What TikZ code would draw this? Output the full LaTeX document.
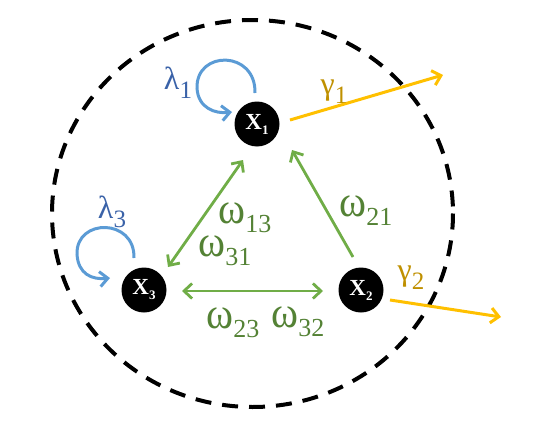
\documentclass[tikz,border=0pt]{standalone}
\usepackage{fontspec}
\setmainfont{Liberation Serif}
\usetikzlibrary{arrows.meta,calc}
\definecolor{loopblue}{HTML}{5B9BD5}
\definecolor{lamblue}{HTML}{3A62A8}
\definecolor{lgreen}{HTML}{70AD47}
\definecolor{tgreen}{HTML}{548235}
\definecolor{lyellow}{HTML}{FFC000}
\definecolor{tgold}{HTML}{BF9000}
\newcommand\mysub[1]{\raisebox{-0.28em}{\fontsize{25}{25}\selectfont #1}}
\newcommand\wsub[1]{\raisebox{-0.28em}{\fontsize{26}{26}\selectfont #1}}
\newcommand\bigw{\scalebox{1.28}[1.38]{ω}}
\newcommand\nsub[1]{\raisebox{-0.22em}{\fontsize{13}{13}\selectfont #1}}
\tikzset{
  gtip/.tip={Straight Barb[length=8pt,width=15pt]},
  state/.style={circle,fill=black,minimum size=45pt,inner sep=0pt,text=white,font=\fontsize{23}{23}\selectfont\bfseries},
  glabel/.style={text=tgreen,font=\fontsize{32}{32}\selectfont,inner sep=0pt},
  ylabel/.style={text=tgold,font=\fontsize{32}{32}\selectfont,inner sep=0pt},
  blabel/.style={text=lamblue,font=\fontsize{32}{32}\selectfont,inner sep=0pt},
  garrow/.style={draw=lgreen,line width=2.8pt},
  yarrow/.style={draw=lyellow,line width=3pt,-gtip},
  barrow/.style={draw=loopblue,line width=3pt,-gtip}
}
\begin{document}
\begin{tikzpicture}[x=1pt,y=-1pt]
\useasboundingbox (0,0) rectangle (536,431);
\draw[black,line width=4pt,dash pattern=on 16pt off 11pt] (252.5,213.5) ellipse [x radius=200.5,y radius=193.5];
\node[state] (x1) at (257,124) {X\nsub{1}};
\node[state] (x3) at (144,290) {X\nsub{3}};
\node[state] (x2) at (361,290) {X\nsub{2}};
\coordinate (g1) at (443,75);
\coordinate (g2) at (501,317);
% green
\draw[garrow,gtip-gtip] ($(x1)+(-14,36)$) -- ($(x3)+(24,-23)$);
\draw[garrow,-gtip] ($(x2)+(-8,-33)$) -- ($(x1)+(35,26)$);
\draw[garrow,gtip-gtip] ($(x3)+(38,1)$) -- ($(x2)+(-38,1)$);
% yellow
\draw[yarrow] ($(x1)+(33,-4)$) -- (g1);
\draw[yarrow] ($(x2)+(29,10)$) -- (g2);
% loops
\draw[barrow] ($(x1)+(-2,-31)$) .. controls ($(x1)+(-1,-74)$) and ($(x1)+(-61,-74)$) .. ($(x1)+(-60,-36)$) .. controls ($(x1)+(-59,-16)$) and ($(x1)+(-42,-10)$) .. ($(x1)+(-25,-12)$);
\draw[barrow] ($(x3)+(-10,-32)$) .. controls ($(x3)+(-9,-72)$) and ($(x3)+(-68,-72)$) .. ($(x3)+(-67,-36)$) .. controls ($(x3)+(-66,-16)$) and ($(x3)+(-52,-10)$) .. ($(x3)+(-34,-12)$);
% labels
\node[blabel] (l1) at (178,83) {λ\mysub{1}};
\node[blabel] (l3) at (112,212) {λ\mysub{3}};
\node[ylabel] (gl1) at (334,92) {γ\mysub{1}};
\node[ylabel] (gl2) at (411,278) {γ\mysub{2}};
\node[glabel] (w13) at (245,218) {\bigw\wsub{13}};
\node[glabel] (w31) at (225,251) {\bigw\wsub{31}};
\node[glabel] (w21) at (366,211) {\bigw\wsub{21}};
\node[glabel] (w23) at (233,323) {\bigw\wsub{23}};
\node[glabel] (w32) at (298,322) {\bigw\wsub{32}};
\end{tikzpicture}
\end{document}
